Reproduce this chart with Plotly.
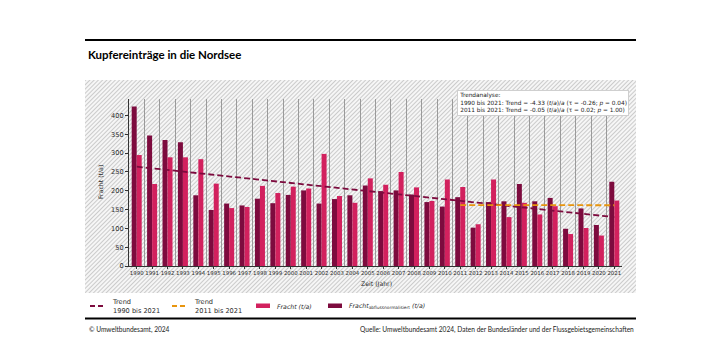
import base64
import plotly.graph_objects as go

# ---------------- data ----------------
years = list(range(1990, 2022))
fracht = [295, 218, 289, 289, 284, 219, 154, 157, 213, 194, 211, 206, 298, 186, 168, 233,
          216, 250, 209, 173, 230, 210, 111, 230, 130, 168, 137, 159, 85, 101, 81, 174]
fracht_norm = [424, 347, 335, 329, 188, 149, 166, 161, 179, 167, 189, 201, 166, 178, 188, 214,
               199, 201, 190, 170, 158, 183, 102, 170, 172, 218, 172, 181, 99, 153, 109, 224]
trend1_years = [1990, 2021]
trend1_vals = [264, 130]
trend2_years = [2011, 2021]
trend2_vals = [162, 161.5]
y_ticks = [0, 50, 100, 150, 200, 250, 300, 350, 400]
grid_vals = [y + 0.5 for y in years]

# ---------------- styling ----------------
DARK = "#7d0b3e"
PINK = "#d2215e"
ORANGE = "#e8950e"
TXT = "#2b2b2b"
FONT = "DejaVu Sans"
FONT2 = "Lato"

FW, FH = 707, 354
ML, MR, MT, MB = 129, 85, 99, 88
W = FW - ML - MR
H = FH - MT - MB


def px(x):
    return (x - ML) / W


def py(y):
    return (FH - MB - y) / H


fig = go.Figure()
fig.add_trace(go.Bar(x=years, y=fracht_norm, marker=dict(color=DARK, line=dict(width=0)),
                     name="Fracht abflussnormalisiert", showlegend=False))
fig.add_trace(go.Bar(x=years, y=fracht, marker=dict(color=PINK, line=dict(width=0)),
                     name="Fracht", showlegend=False))
fig.add_trace(go.Scatter(x=trend1_years, y=trend1_vals, mode="lines",
                         line=dict(color=DARK, width=1.8, dash="6px,3px"), showlegend=False))
fig.add_trace(go.Scatter(x=trend2_years, y=trend2_vals, mode="lines",
                         line=dict(color=ORANGE, width=1.8, dash="6px,3px"), showlegend=False))

# hatched background
hx0, hx1, hy0, hy1 = 85, 636, 80, 293
svg = (f"<svg xmlns='http://www.w3.org/2000/svg' width='{hx1-hx0}' height='{hy1-hy0}'>"
       "<defs><pattern id='h' width='3' height='3' patternUnits='userSpaceOnUse' "
       "patternTransform='rotate(45)'><line x1='0.5' y1='0' x2='0.5' y2='3' stroke='#c6c6c6' "
       "stroke-width='0.9'/></pattern></defs>"
       "<rect width='100%' height='100%' fill='#f6f6f6'/>"
       "<rect width='100%' height='100%' fill='url(#h)'/></svg>")
uri = "data:image/svg+xml;base64," + base64.b64encode(svg.encode()).decode()

shapes = [
    dict(type="line", xref="paper", yref="paper", x0=px(85), x1=px(636), y0=py(40), y1=py(40),
         line=dict(color="black", width=2)),
    dict(type="line", xref="paper", yref="paper", x0=px(85), x1=px(636), y0=py(318.5), y1=py(318.5),
         line=dict(color="black", width=2)),
    # legend symbols
    dict(type="line", xref="paper", yref="paper", x0=px(90), x1=px(105), y0=py(306), y1=py(306),
         line=dict(color=DARK, width=1.8, dash="5px,3px")),
    dict(type="line", xref="paper", yref="paper", x0=px(172), x1=px(187), y0=py(306), y1=py(306),
         line=dict(color=ORANGE, width=1.8, dash="5px,3px")),
    dict(type="rect", xref="paper", yref="paper", x0=px(256), x1=px(270), y0=py(303.5), y1=py(308),
         fillcolor=PINK, line=dict(width=0)),
    dict(type="rect", xref="paper", yref="paper", x0=px(328), x1=px(342), y0=py(303.5), y1=py(308),
         fillcolor=DARK, line=dict(width=0)),
]

annotations = [
    dict(text="<b>Kupfereinträge in die Nordsee</b>", xref="paper", yref="paper",
         x=px(86), y=py(55), xanchor="left", yanchor="middle", showarrow=False,
         font=dict(family=FONT2, size=11.5, color="black")),
    dict(text="Fracht (t/a)", xref="paper", yref="paper", x=px(100), y=py(182),
         xanchor="center", yanchor="middle", textangle=-90, showarrow=False,
         font=dict(family=FONT, size=6.2, color=TXT)),
    dict(text="Zeit (Jahr)", xref="paper", yref="paper", x=px(376), y=py(284),
         xanchor="center", yanchor="middle", showarrow=False,
         font=dict(family=FONT, size=6.2, color=TXT)),
    dict(text=("Trendanalyse:<br>"
               "1990 bis 2021: Trend = -4.33 (<i>t</i>/<i>a</i>)/<i>a</i> (τ = -0.26; <i>p</i> = 0.04)<br>"
               "2011 bis 2021: Trend = -0.05 (<i>t</i>/<i>a</i>)/<i>a</i> (τ = 0.02; <i>p</i> = 1.00)"),
         xref="paper", yref="paper", x=px(457), y=py(90), xanchor="left", yanchor="top",
         align="left", showarrow=False, bgcolor="white", bordercolor="#cfcfcf", borderwidth=1,
         borderpad=1.2, font=dict(family=FONT, size=5.8, color="#222")),
    # legend texts
    dict(text="Trend<br>1990 bis 2021", xref="paper", yref="paper", x=px(110), y=py(306),
         xanchor="left", yanchor="middle", align="left", showarrow=False,
         font=dict(family=FONT, size=6.6, color=TXT)),
    dict(text="Trend<br>2011 bis 2021", xref="paper", yref="paper", x=px(192), y=py(306),
         xanchor="left", yanchor="middle", align="left", showarrow=False,
         font=dict(family=FONT, size=6.6, color=TXT)),
    dict(text="<i>Fracht (t/a)</i>", xref="paper", yref="paper", x=px(275), y=py(306),
         xanchor="left", yanchor="middle", align="left", showarrow=False,
         font=dict(family=FONT, size=6.2, color=TXT)),
    dict(text="<i>Fracht</i><sub>abflussnormalisiert</sub> <i>(t/a)</i>", xref="paper", yref="paper",
         x=px(347), y=py(306), xanchor="left", yanchor="middle", align="left", showarrow=False,
         font=dict(family=FONT, size=6.2, color=TXT)),
    # footer
    dict(text="© Umweltbundesamt, 2024", xref="paper", yref="paper", x=px(87), y=py(329),
         xanchor="left", yanchor="middle", showarrow=False,
         font=dict(family=FONT2, size=6.6, color="#222")),
    dict(text="Quelle: Umweltbundesamt 2024, Daten der Bundesländer und der Flussgebietsgemeinschaften",
         xref="paper", yref="paper", x=px(636), y=py(329), xanchor="right", yanchor="middle",
         showarrow=False, font=dict(family=FONT2, size=6.6, color="#222")),
]

fig.update_layout(
    width=FW, height=FH,
    margin=dict(l=ML, r=MR, t=MT, b=MB, pad=0),
    paper_bgcolor="white", plot_bgcolor="rgba(0,0,0,0)",
    barmode="group", bargap=0.35, bargroupgap=0,
    showlegend=False,
    shapes=shapes, annotations=annotations,
    images=[dict(source=uri, xref="paper", yref="paper", x=px(hx0), y=py(hy0),
                 sizex=(hx1 - hx0) / W, sizey=(hy1 - hy0) / H, sizing="stretch",
                 xanchor="left", yanchor="top", layer="below")],
    xaxis=dict(range=[1989.5, 2021.5], tickmode="array", tickvals=years,
               ticktext=[str(y) for y in years], tickangle=0, ticks="outside", ticklen=2,
               tickcolor="#333", showline=True, linecolor="#333", linewidth=1,
               showgrid=False, zeroline=False, automargin=False,
               tickfont=dict(family=FONT, size=5.4, color=TXT),
               minor=dict(tickmode="array", tickvals=grid_vals, showgrid=True,
                          gridcolor="#9a9a9a", gridwidth=1, ticks="")),
    yaxis=dict(range=[0, 444], tickmode="array", tickvals=y_ticks, ticks="outside", ticklen=3,
               tickcolor="#333", showline=True, linecolor="#333", linewidth=1,
               showgrid=False, zeroline=False, automargin=False,
               tickfont=dict(family=FONT, size=6.6, color=TXT)),
)

fig.write_html("out.html")
